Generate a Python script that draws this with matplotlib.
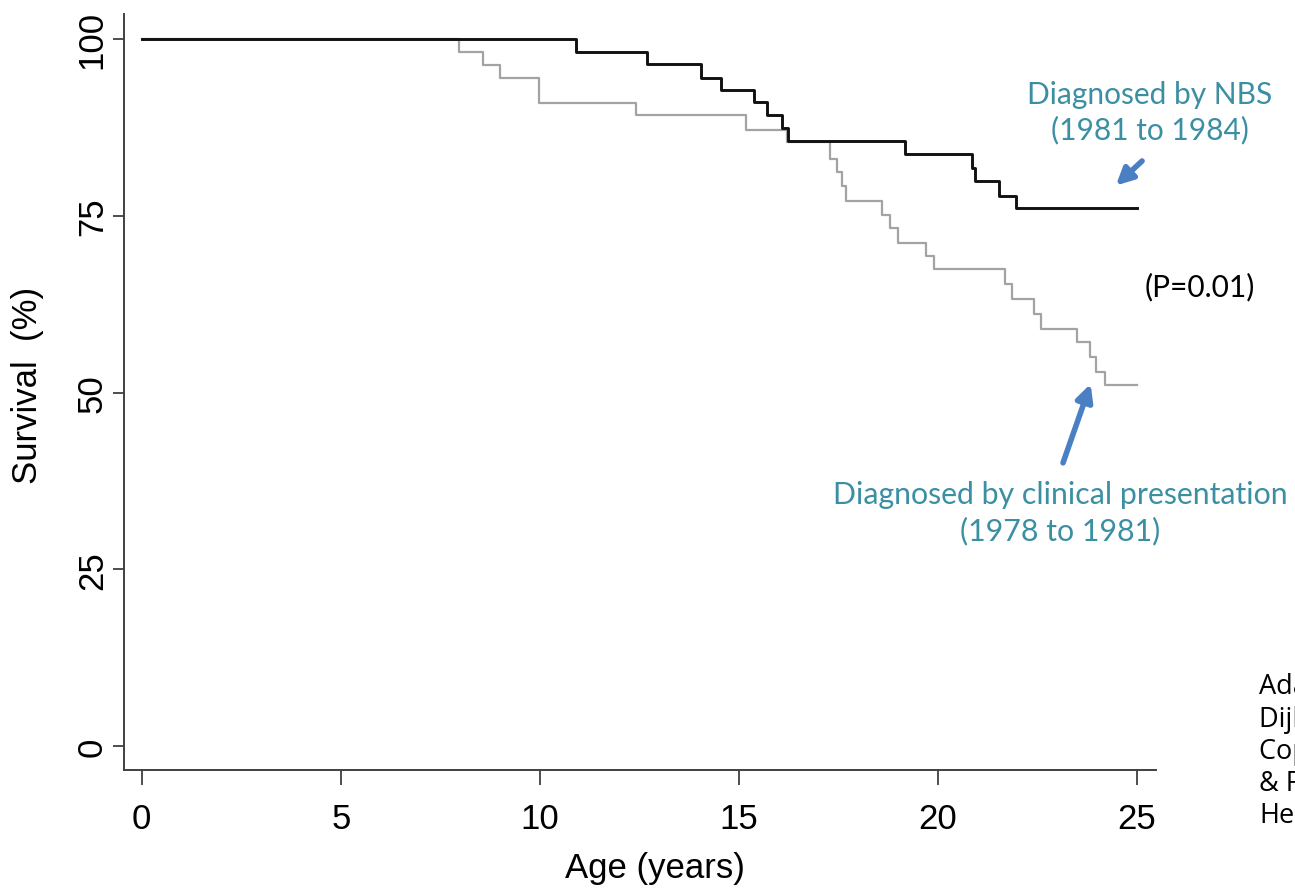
import matplotlib.pyplot as plt

plt.rcParams['font.family'] = ['Liberation Sans', 'DejaVu Sans']

# Kaplan-Meier steps (age in years, survival in %)
nbs_age = [0, 10.9, 12.68, 14.06, 14.54, 15.39, 15.70, 16.09, 16.24,
           19.18, 20.85, 20.93, 21.53, 21.95, 25.0]
nbs_surv = [100, 98.1, 96.5, 94.5, 92.8, 91.0, 89.2, 87.4, 85.5,
            83.7, 81.7, 79.9, 77.8, 76.1, 76.1]

clin_age = [0, 7.96, 8.57, 9.01, 9.97, 12.42, 15.17, 16.2, 17.29, 17.47,
            17.60, 17.68, 18.60, 18.79, 19.00, 19.69, 19.90, 21.68, 21.87,
            22.41, 22.58, 23.50, 23.83, 23.96, 24.21, 25.0]
clin_surv = [100, 98.1, 96.3, 94.5, 90.9, 89.2, 87.1, 85.4, 83.0, 81.2,
             79.2, 77.1, 75.1, 73.2, 71.2, 69.3, 67.4, 65.3, 63.2,
             61.1, 59.0, 57.1, 55.0, 52.9, 51.0, 51.0]

x_ticks = [0, 5, 10, 15, 20, 25]
y_ticks = [0, 25, 50, 75, 100]

teal = '#3b8fa3'
arrow_blue = '#4a7fc4'
spine_col = '#404040'
note_font = ['Lato', 'DejaVu Sans']

fig = plt.figure(figsize=(12.95, 8.95), dpi=100)
ax = fig.add_axes([0.0958, 0.1389, 0.7969, 0.8443])

ax.step(clin_age, clin_surv, where='post', color='#a3a3a3', lw=1.6, zorder=2)
ax.step(nbs_age, nbs_surv, where='post', color='#111111', lw=2.1, zorder=3)

ax.set_xlim(-0.445, 25.48)
ax.set_ylim(-3.3, 103.5)

for side in ['top', 'right']:
    ax.spines[side].set_visible(False)
for side in ['left', 'bottom']:
    ax.spines[side].set_color(spine_col)
    ax.spines[side].set_linewidth(1.4)

ax.set_xticks(x_ticks)
ax.set_yticks(y_ticks)
ax.set_yticklabels([str(v) for v in y_ticks], rotation=90, va='center')
ax.tick_params(axis='x', direction='out', length=11, width=1.3,
               color=spine_col, labelsize=25, pad=12)
ax.tick_params(axis='y', direction='out', length=8, width=1.3,
               color=spine_col, labelsize=25, pad=3)

ax.set_ylabel('Survival  (%)', fontsize=25)
ax.yaxis.set_label_coords(-0.078, 0.510)
ax.set_xlabel('Age (years)', fontsize=25)
ax.xaxis.set_label_coords(0.5145, -0.107)

# annotations
ax.text(25.33, 89.7, 'Diagnosed by NBS\n(1981 to 1984)', color=teal,
        fontsize=21.5, ha='center', va='center', linespacing=1.3,
        family=note_font)
ax.annotate('', xy=(24.42, 79.0), xytext=(25.18, 83.0),
            arrowprops=dict(arrowstyle='-|>', color=arrow_blue, lw=4,
                            mutation_scale=25))

ax.text(26.59, 65.1, '(P=0.01)', color='black', fontsize=21.5,
        ha='center', va='center', family=note_font)

ax.text(23.07, 33.1, 'Diagnosed by clinical presentation\n(1978 to 1981)',
        color=teal, fontsize=21.8, ha='center', va='center', linespacing=1.3,
        family=note_font)
ax.annotate('', xy=(23.86, 51.6), xytext=(23.12, 39.7),
            arrowprops=dict(arrowstyle='-|>', color=arrow_blue, lw=4,
                            mutation_scale=25))

# source note, cut off by the right edge as in the original
fig.text(0.9725, 0.16, 'Adapted from\nDijkstra et al.\nCopyright Taylor\n& Francis\nHealth',
         fontsize=19.5, ha='left', va='center', linespacing=1.2,
         family=['Open Sans', 'DejaVu Sans'])

fig.savefig('out.png', dpi=100)
